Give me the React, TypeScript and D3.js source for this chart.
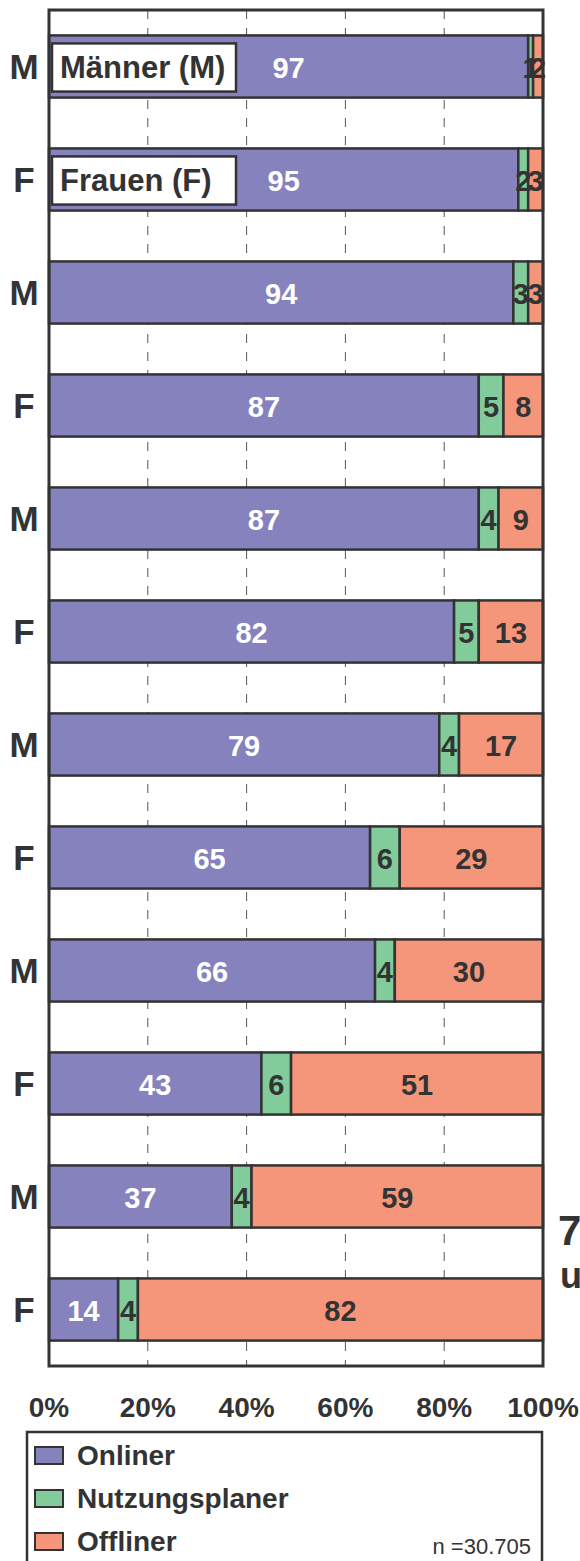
import React from "react";
import * as d3 from "d3";

// rows from top to bottom
const groups = ["M", "F", "M", "F", "M", "F", "M", "F", "M", "F", "M", "F"];
const onliner = [97, 95, 94, 87, 87, 82, 79, 65, 66, 43, 37, 14];
const planer = [1, 2, 3, 5, 4, 5, 4, 6, 4, 6, 4, 4];
const offliner = [2, 3, 3, 8, 9, 13, 17, 29, 30, 51, 59, 82];
const boxLabels = ["Männer (M)", "Frauen (F)"];
const seriesNames = ["Onliner", "Nutzungsplaner", "Offliner"];
const colors = ["#8682bd", "#82cc9c", "#f5967a"];
const labelColors = ["#ffffff", "#333333", "#333333"];
const ticks = [0, 20, 40, 60, 80, 100];

const W = 580;
const H = 1561;
const margin = { top: 10, right: 37, bottom: 195, left: 49 };
const dark = "#333333";
const font = "'Liberation Sans', Arial, Helvetica, sans-serif";

export default function App() {
  const x = d3
    .scaleLinear()
    .domain([0, 100])
    .range([margin.left, W - margin.right]);
  const y = d3
    .scaleBand<number>()
    .domain(d3.range(groups.length))
    .range([margin.top, H - margin.bottom])
    .paddingInner(0.45)
    .paddingOuter(0.225);

  const rows = groups.map((g, i) => ({
    g,
    i,
    values: [onliner[i], planer[i], offliner[i]],
  }));

  const stack = d3.stack<any>().keys(["0", "1", "2"]);
  const stacked = stack(rows.map((r) => ({ "0": r.values[0], "1": r.values[1], "2": r.values[2] })));

  const bw = y.bandwidth();
  const legendY = [1456, 1499, 1542];

  return (
    <svg
      width={W}
      height={H}
      style={{ position: "absolute", left: 0, top: 0 }}
      fontFamily={font}
    >
      <rect x={0} y={0} width={W} height={H} fill="#ffffff" />
      {/* dashed gridlines */}
      {ticks.slice(1, -1).map((t) => (
        <line
          key={t}
          x1={x(t)}
          x2={x(t)}
          y1={margin.top}
          y2={H - margin.bottom}
          stroke="#555"
          strokeWidth={1}
          strokeDasharray="9,9"
        />
      ))}
      {/* bars */}
      {stacked.map((layer, k) =>
        layer.map((d, i) => (
          <rect
            key={`${k}-${i}`}
            x={x(d[0])}
            y={y(i)}
            width={x(d[1]) - x(d[0])}
            height={bw}
            fill={colors[k]}
            stroke={dark}
            strokeWidth={2.5}
          />
        ))
      )}
      {/* boxes for first two rows */}
      {boxLabels.map((t, i) => (
        <g key={t}>
          <rect
            x={x(0) + 3}
            y={(y(i) as number) + 8}
            width={184}
            height={bw - 14}
            fill="#ffffff"
            stroke={dark}
            strokeWidth={2.5}
          />
          <text
            x={x(0) + 11}
            y={(y(i) as number) + bw / 2 + 11}
            fontSize={31}
            fontWeight="bold"
            fill={dark}
          >
            {t}
          </text>
        </g>
      ))}
      {/* value labels */}
      {stacked.map((layer, k) =>
        layer.map((d, i) => (
          <text
            key={`l${k}-${i}`}
            x={(x(d[0]) + x(d[1])) / 2}
            y={(y(i) as number) + bw / 2 + 11}
            textAnchor="middle"
            fontSize={29}
            fontWeight="bold"
            fill={labelColors[k]}
          >
            {d[1] - d[0]}
          </text>
        ))
      )}
      {/* group labels */}
      {rows.map((r) => (
        <text
          key={`g${r.i}`}
          x={24}
          y={(y(r.i) as number) + bw / 2 + 12}
          textAnchor="middle"
          fontSize={35}
          fontWeight="bold"
          fill={dark}
        >
          {r.g}
        </text>
      ))}
      {/* frame */}
      <rect
        x={x(0)}
        y={margin.top}
        width={x(100) - x(0)}
        height={H - margin.bottom - margin.top}
        fill="none"
        stroke={dark}
        strokeWidth={3}
      />
      {/* x tick labels */}
      {ticks.map((t) => (
        <text
          key={`t${t}`}
          x={x(t)}
          y={1417}
          textAnchor="middle"
          fontSize={28}
          fontWeight="bold"
          fill={dark}
        >
          {t}%
        </text>
      ))}
      {/* clipped side text */}
      <text x={558} y={1245} fontSize={42} fontWeight="bold" fill={dark}>
        7
      </text>
      <text x={560} y={1288} fontSize={36} fontWeight="bold" fill={dark}>
        u
      </text>
      {/* legend */}
      <rect
        x={27}
        y={1432}
        width={x(100) - 1 - 27}
        height={150}
        fill="#ffffff"
        stroke={dark}
        strokeWidth={2.5}
      />
      {seriesNames.map((s, k) => (
        <g key={s}>
          <rect
            x={35}
            y={legendY[k] - 9}
            width={28}
            height={17}
            fill={colors[k]}
            stroke={dark}
            strokeWidth={2}
          />
          <text
            x={77}
            y={legendY[k] + 9}
            fontSize={28}
            fontWeight="bold"
            fill={dark}
          >
            {s}
          </text>
        </g>
      ))}
      <text x={531} y={1554} textAnchor="end" fontSize={22} fill={dark}>
        n =30.705
      </text>
    </svg>
  );
}
